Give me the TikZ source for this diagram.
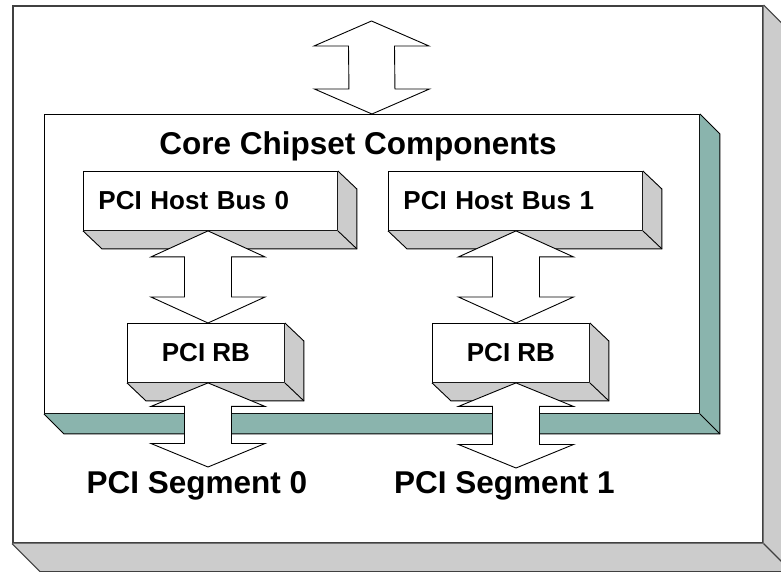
\documentclass[tikz,border=0pt]{standalone}
\usepackage{fontspec}
\setmainfont{Liberation Sans}
\usetikzlibrary{calc}
\definecolor{shadegray}{RGB}{204,204,204}
\definecolor{tealface}{RGB}{138,180,173}
\definecolor{framegray}{RGB}{64,64,64}
\tikzset{
  ln/.style={draw=black, line width=0.9pt, line join=miter},
  arrowsty/.style={ln, fill=white},
  frontbox/.style={ln, fill=white, inner sep=0pt, anchor=north west},
  hostbox/.style={frontbox, minimum width=254pt, minimum height=59pt,
     text width=224pt, align=left, inner xsep=15pt,
     font=\fontsize{26}{30}\selectfont\bfseries},
  rbbox/.style={frontbox, minimum width=157pt, minimum height=59pt,
     align=center, font=\fontsize{26}{30}\selectfont\bfseries},
  biglabel/.style={anchor=base, inner sep=0pt, font=\fontsize{31.5}{36}\selectfont\bfseries}
}
% double arrow from tip #1 (top) to tip #2 (bottom); head length #3, half head #4, half shaft #5
\newcommand{\dblarrow}[5]{%
  \draw[arrowsty] (#1) -- ($(#1)+(#4,#3)$) -- ($(#1)+(#5,#3)$) -- ($(#2)+(#5,-#3)$)
    -- ($(#2)+(#4,-#3)$) -- (#2) -- ($(#2)+(-#4,-#3)$) -- ($(#2)+(-#5,-#3)$)
    -- ($(#1)+(-#5,#3)$) -- ($(#1)+(-#4,#3)$) -- cycle;}
% 3D side/bottom faces of node #1, depth (#2,#3), fill #4, line style #5
\newcommand{\boxdepth}[5]{%
  \fill[#4] (#1.north east) -- ++(#2,#3) -- ($(#1.south east)+(#2,#3)$)
    -- ($(#1.south west)+(#2,#3)$) -- (#1.south west) -- (#1.south east) -- cycle;
  \draw[#5] (#1.north east) -- ++(#2,#3) -- ($(#1.south east)+(#2,#3)$)
    -- ($(#1.south west)+(#2,#3)$) -- (#1.south west);
  \draw[#5] (#1.south east) -- ++(#2,#3);}
\begin{document}
\begin{tikzpicture}[x=1pt,y=-1pt]
\useasboundingbox (0,0) rectangle (781,571);
\clip (0,0) rectangle (781,571);
% outer frame
\node[frontbox, draw=framegray, line width=1.6pt, minimum width=750pt, minimum height=537pt] (outer) at (12,5) {};
\boxdepth{outer}{28}{28}{shadegray}{draw=framegray, line width=1.2pt}
% core chipset box
\node[frontbox, minimum width=655pt, minimum height=299pt] (core) at (44,114) {};
\boxdepth{core}{20}{20}{tealface}{ln}
\node[biglabel] (title) at (358,154) {Core Chipset Components};
% host buses
\node[hostbox] (hb0) at (83,171) {PCI Host Bus 0};
\boxdepth{hb0}{19}{18}{shadegray}{ln}
\node[hostbox] (hb1) at (388,171) {PCI Host Bus 1};
\boxdepth{hb1}{19}{18}{shadegray}{ln}
% root bridges
\node[rbbox] (rb0) at (127,323) {PCI RB};
\boxdepth{rb0}{19}{18}{shadegray}{ln}
\node[rbbox] (rb1) at (432,323) {PCI RB};
\boxdepth{rb1}{19}{18}{shadegray}{ln}
% segment labels
\node[biglabel] (seg0) at (197,493) {PCI Segment 0};
\node[biglabel] (seg1) at (504.5,493) {PCI Segment 1};
% arrow coordinates
\coordinate (xa) at (208,0);
\coordinate (xb) at (516,0);
\coordinate (topend) at (371.5,21);
\coordinate (seg0top) at (208,467);
\coordinate (seg1top) at (516,468);
% arrows
\dblarrow{topend}{core.north}{25}{57.5}{23}
\dblarrow{xa |- hb0.south}{xa |- rb0.north}{26}{57}{23.5}
\dblarrow{xb |- hb1.south}{xb |- rb1.north}{26}{57.5}{23.5}
\dblarrow{xa |- rb0.south}{seg0top}{23.5}{57}{23.5}
\dblarrow{xb |- rb1.south}{seg1top}{23.5}{57.5}{23.5}
\end{tikzpicture}
\end{document}
